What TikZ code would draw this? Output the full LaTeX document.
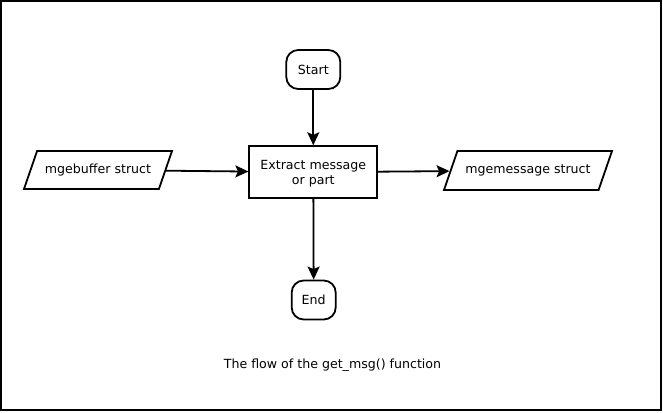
\documentclass[tikz,border=0pt]{standalone}
\usepackage{fontspec}
\setmainfont{DejaVu Sans}
\usetikzlibrary{shapes.geometric,arrows.meta}
\begin{document}
\begin{tikzpicture}[x=1pt,y=-1pt,
  every node/.style={font=\fontsize{12.6}{15}\selectfont},
  termbox/.style={draw, line width=1.8pt, rounded corners=12pt, minimum height=39pt, inner sep=0pt},
  procbox/.style={draw, line width=1.8pt, minimum width=128pt, minimum height=52pt, align=center, inner sep=0pt, text depth=0pt},
  iobox/.style={draw, line width=1.8pt, trapezium, trapezium left angle=71, trapezium right angle=109, trapezium stretches body=true, text height=9pt, text depth=3pt, inner ysep=13pt, inner xsep=0pt},
  flow/.style={line width=1.8pt, -{Stealth[length=13pt,width=12pt,inset=2.5pt]}}]
\useasboundingbox (0,0) rectangle (663,412);
\draw[line width=2pt] (1,1) rectangle (660.5,409.5);
\node[termbox, minimum width=54pt] (start) at (313.3,69.5) {Start};
\node[procbox] (proc) at (313.3,172.2) {Extract message\\or part};
\node[termbox, minimum width=44pt] (end) at (313.7,300) {End};
\node[iobox, minimum width=148pt] (buf) at (98,170) {mgebuffer struct};
\node[iobox, minimum width=168pt, inner ysep=13.5pt] (msg) at (528,170.5) {mgemessage struct};
\node (cap) at (332.5,365) {The flow of the get\_msg() function};
\draw[flow] (start) -- (proc);
\draw[flow] (proc) -- (end);
\draw[flow] (buf) -- (proc);
\draw[flow] (proc) -- (msg);
\end{tikzpicture}
\end{document}
